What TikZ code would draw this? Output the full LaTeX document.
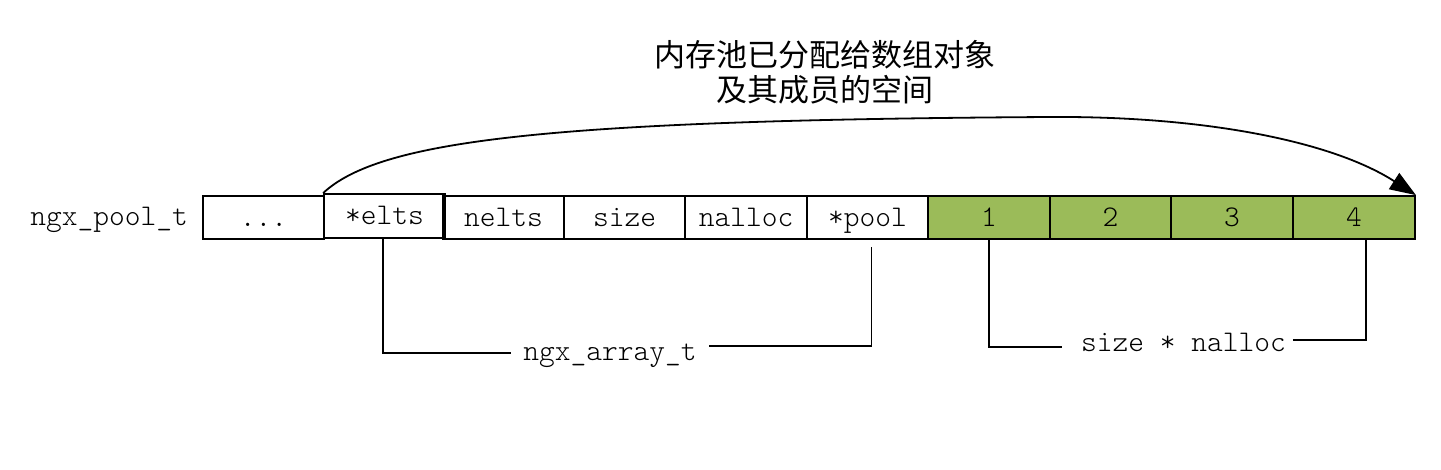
\documentclass[tikz,border=0pt]{standalone}
\usepackage{fontspec}
\setmonofont{Latin Modern Mono Light}
\newfontfamily\cjk{Noto Sans CJK SC}
\usetikzlibrary{arrows.meta}
\definecolor{cellgreen}{HTML}{9BBB59}
\begin{document}
\begin{tikzpicture}[x=0.5pt,y=-0.5pt, line width=0.9pt,
  cell/.style={draw, inner sep=0pt, minimum width=60.6pt, minimum height=21.5pt,
    text height=10pt, text depth=1pt, font=\ttfamily\fontsize{15}{18}\selectfont},
  gcell/.style={cell, fill=cellgreen},
  lbl/.style={inner ysep=0pt, inner xsep=5.75pt, text height=10pt, text depth=1pt,
    font=\ttfamily\fontsize{15}{18}\selectfont},
  title/.style={align=center, font=\cjk\fontsize{15.5}{17.5}\selectfont}
]
\useasboundingbox (0,0) rectangle (1441,470);

\node[cell] (dots) at (263.5,217.5) {...};
\node[cell, minimum width=60.5pt, minimum height=22pt] (elts) at (384.5,216) {*elts};
\node[cell, minimum width=60.5pt] (nelts) at (503.5,217.5) {nelts};
\node[cell] (size) at (624.5,217.5) {size};
\node[cell, minimum width=61pt] (nalloc) at (746,217.5) {nalloc};
\node[cell] (pool) at (867.5,217.5) {*pool};
\node[gcell, minimum width=61pt] (one) at (989,217.5) {1};
\node[gcell] (two) at (1110.5,217.5) {2};
\node[gcell, minimum width=61pt] (three) at (1232,217.5) {3};
\node[gcell, minimum width=61pt] (four) at (1354,217.5) {4};

\node[lbl, anchor=base] (pooll) at (109,226) {ngx\_pool\_t};
\node[lbl] (arr) at (610,351) {ngx\_array\_t};
\node[lbl, inner xsep=3pt] (sz) at (1183.5,342.7) {size * nalloc};

\node[title] (ttl) at (825,72.5) {内存池已分配给数组对象\\及其成员的空间};

\draw ([xshift=-0.75pt]elts.south) |- ([yshift=-1pt]arr.west);
\draw ([yshift=2.5pt]arr.east) -| ([xshift=2pt,yshift=-3.5pt]pool.south);
\draw (one.south) |- ([xshift=-6pt,yshift=-2.3pt]sz.west);
\draw ([yshift=1.35pt]sz.east) -| ([xshift=6pt]four.south);

\draw[-{Triangle[length=13pt,width=9.5pt]}] (elts.north west)
  .. controls (380,140) and (550,120) .. (1050,117)
  .. controls (1200,116) and (1330,140) .. (four.north east);
\end{tikzpicture}
\end{document}
